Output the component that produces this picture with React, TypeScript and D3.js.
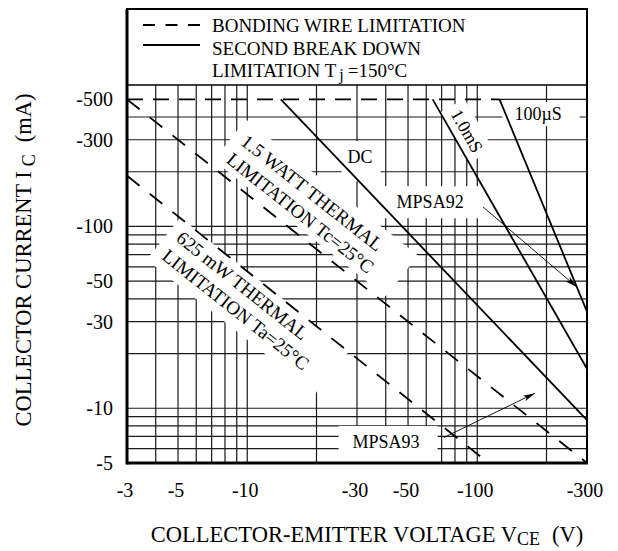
import { useEffect, useRef } from 'react';
import * as d3 from 'd3';

type Pt = [number, number];

// axis values (the sheet prints them negative: PNP device)
const xTickValues = [3, 5, 10, 30, 50, 100, 300];
const yTickValues = [5, 10, 30, 50, 100, 300, 500];
const xGridValues = [4, 5, 6, 7, 8, 9, 10, 20, 30, 40, 50, 60, 70, 80, 90, 100, 200];
const yGridValues = [6, 7, 8, 9, 10, 20, 30, 40, 50, 60, 70, 80, 90, 100, 200, 300, 400, 500];

// limit curves, [VCE (V), IC (mA)]
const bondingWire: Pt[] = [[3, 500], [125, 500]];
const dcLimit: Pt[] = [[14, 500], [300, 8.6]];
const pulse1ms: Pt[] = [[64, 500], [300, 16.5]];
const pulse100us: Pt[] = [[125, 500], [300, 34]];
const thermal1500: Pt[] = [[3, 500], [300, 5]];
const thermal625: Pt[] = [[3, 190], [112, 5]];

// annotation anchors, also in data units
const arrow92: Pt[] = [[106, 128], [271, 46.5]];
const arrow93: Pt[] = [[71.5, 6.9], [178, 12.1]];
const label100us: Pt = [145, 385];
const labelDC: Pt = [27.3, 223];
const label92: Pt = [44.6, 126];
const label93: Pt = [28.7, 6.05];
const label1ms: Pt = [90, 335];
const label1500: Pt = [9.25, 285];
const label625: Pt = [4.85, 84];

export default function App() {
  const svgRef = useRef<SVGSVGElement>(null);

  useEffect(() => {
    if (!svgRef.current) return;
    const svg = d3.select(svgRef.current);
    svg.selectAll('*').remove();

    const left = 127;
    const right = 587;
    const top = 9;
    const plotTop = 85;
    const bottom = 463;

    const x = d3.scaleLog().domain([3, 300]).range([left, right]);
    const y = d3.scaleLog().domain([5, 600]).range([bottom, plotTop]);
    const line = d3.line<Pt>().x((d) => x(d[0])).y((d) => y(d[1]));

    svg.attr('font-family', "'Liberation Serif', 'Times New Roman', serif").attr('fill', '#000');

    svg
      .append('defs')
      .append('marker')
      .attr('id', 'arrowhead')
      .attr('markerUnits', 'userSpaceOnUse')
      .attr('markerWidth', 12)
      .attr('markerHeight', 8)
      .attr('refX', 12)
      .attr('refY', 4)
      .attr('orient', 'auto')
      .append('path')
      .attr('d', 'M0,1 L12,4 L0,7 L3,4 Z')
      .attr('fill', '#000');

    const gridLayer = svg.append('g').attr('stroke', '#1a1a1a').attr('stroke-width', 1.2);
    const maskLayer = svg.append('g').attr('fill', '#fff');
    const curveLayer = svg.append('g').attr('fill', 'none').attr('stroke', '#000');
    const textLayer = svg.append('g');

    gridLayer
      .selectAll('line.v')
      .data(xGridValues)
      .join('line')
      .attr('class', 'v')
      .attr('x1', (d) => x(d))
      .attr('x2', (d) => x(d))
      .attr('y1', plotTop)
      .attr('y2', bottom);

    // the 500 mA rule is replaced by the bonding wire dashes on its left part
    gridLayer
      .selectAll('line.h')
      .data(yGridValues)
      .join('line')
      .attr('class', 'h')
      .attr('x1', (d) => (d === 500 ? x(bondingWire[1][0]) : left))
      .attr('x2', right)
      .attr('y1', (d) => y(d))
      .attr('y2', (d) => y(d));

    // text with a white patch behind it that breaks the grid
    const block = (
      at: Pt,
      angle: number,
      rows: string[],
      size: number,
      anchor: string,
      pad: [number, number, number, number],
      dy = 0
    ) => {
      const tr = `translate(${x(at[0])},${y(at[1])}) rotate(${angle})`;
      const g = textLayer.append('g').attr('transform', tr);
      rows.forEach((r, i) => {
        g.append('text')
          .attr('y', i * 23)
          .attr('dy', dy)
          .attr('font-size', size)
          .attr('text-anchor', anchor)
          .text(r);
      });
      const b = (g.node() as SVGGElement).getBBox();
      maskLayer
        .append('rect')
        .attr('transform', tr)
        .attr('x', b.x - pad[3])
        .attr('y', b.y - pad[0])
        .attr('width', b.width + pad[1] + pad[3])
        .attr('height', b.height + pad[0] + pad[2]);
    };

    const slope = (pts: Pt[]) =>
      (Math.atan2(y(pts[1][1]) - y(pts[0][1]), x(pts[1][0]) - x(pts[0][0])) * 180) / Math.PI;

    block(label100us, 0, ['100µS'], 18, 'start', [2, 18, 2, 12]);
    block(labelDC, 0, ['DC'], 18, 'start', [6, 8, 14, 6]);
    block(label92, 0, ['MPSA92'], 18, 'start', [6, 16, 6, 14]);
    block(label93, 0, ['MPSA93'], 18, 'start', [6, 18, 12, 14]);
    block(label1ms, slope(pulse1ms), ['1.0mS'], 18, 'middle', [4, 6, 4, 6], 6);
    block(label1500, slope(thermal1500), ['1.5 WATT THERMAL', 'LIMITATION Tc=25°C'], 19, 'start', [6, 28, 2, 10]);
    block(label625, slope(thermal625), ['625 mW THERMAL', 'LIMITATION Ta=25°C'], 19, 'start', [4, 24, 6, 10]);

    // limit curves
    curveLayer
      .append('path')
      .attr('d', line(bondingWire))
      .attr('stroke-width', 1.8)
      .attr('stroke-dasharray', '16,10');
    [thermal1500, thermal625].forEach((pts) => {
      curveLayer
        .append('path')
        .attr('d', line(pts))
        .attr('stroke-width', 1.8)
        .attr('stroke-dasharray', '16,13');
    });
    [dcLimit, pulse1ms, pulse100us].forEach((pts) => {
      curveLayer.append('path').attr('d', line(pts)).attr('stroke-width', 1.8);
    });
    [arrow92, arrow93].forEach((pts) => {
      curveLayer
        .append('path')
        .attr('d', line(pts))
        .attr('stroke-width', 0.9)
        .attr('marker-end', 'url(#arrowhead)');
    });

    // frame and legend box
    const frame = svg.append('g').attr('stroke', '#000').attr('fill', 'none');
    frame
      .append('rect')
      .attr('x', left)
      .attr('y', top)
      .attr('width', right - left)
      .attr('height', bottom - top)
      .attr('stroke-width', 2);
    frame.append('line').attr('x1', left).attr('x2', left).attr('y1', top).attr('y2', bottom + 1.5).attr('stroke-width', 3);
    frame.append('line').attr('x1', left).attr('x2', right + 1).attr('y1', bottom).attr('y2', bottom).attr('stroke-width', 3);
    frame.append('line').attr('x1', left).attr('x2', right).attr('y1', plotTop).attr('y2', plotTop).attr('stroke-width', 1.6);

    const legend = svg.append('g');
    legend
      .append('line')
      .attr('x1', 143)
      .attr('x2', 200)
      .attr('y1', 25)
      .attr('y2', 25)
      .attr('stroke', '#000')
      .attr('stroke-width', 1.8)
      .attr('stroke-dasharray', '12,10.5');
    legend
      .append('line')
      .attr('x1', 143)
      .attr('x2', 200)
      .attr('y1', 45)
      .attr('y2', 45)
      .attr('stroke', '#000')
      .attr('stroke-width', 1.8);
    legend.append('text').attr('x', 212).attr('y', 32).attr('font-size', 19).text('BONDING WIRE LIMITATION');
    legend.append('text').attr('x', 212).attr('y', 55).attr('font-size', 19).text('SECOND BREAK DOWN');
    const tj = legend.append('text').attr('x', 212).attr('y', 77).attr('font-size', 19);
    tj.append('tspan').text('LIMITATION T');
    tj.append('tspan').attr('dx', 3).attr('dy', 3).attr('font-size', 16).text('j');
    tj.append('tspan').attr('dx', 4).attr('dy', -3).text('=150°C');

    // tick labels
    textLayer
      .selectAll('text.xt')
      .data(xTickValues)
      .join('text')
      .attr('class', 'xt')
      .attr('x', (d) => x(d) - 2)
      .attr('y', 497)
      .attr('font-size', 20)
      .attr('text-anchor', 'middle')
      .text((d) => `-${d}`);

    textLayer
      .selectAll('text.yt')
      .data(yTickValues)
      .join('text')
      .attr('class', 'yt')
      .attr('x', 113)
      .attr('y', (d) => y(d) + 7)
      .attr('font-size', 20)
      .attr('text-anchor', 'end')
      .text((d) => `-${d}`);

    // axis titles
    const xt = textLayer
      .append('text')
      .attr('x', 367)
      .attr('y', 542)
      .attr('font-size', 22.5)
      .attr('text-anchor', 'middle');
    xt.append('tspan').text('COLLECTOR-EMITTER VOLTAGE V');
    xt.append('tspan').attr('dy', 3).attr('font-size', 18).text('CE');
    xt.append('tspan').attr('dx', 12).attr('dy', -3).text('(V)');

    const yt = textLayer
      .append('text')
      .attr('transform', 'translate(31,260) rotate(-90)')
      .attr('font-size', 22.5)
      .attr('text-anchor', 'middle');
    yt.append('tspan').text('COLLECTOR CURRENT I');
    yt.append('tspan').attr('dx', 5).attr('dy', 4).attr('font-size', 18).text('C');
    yt.append('tspan').attr('dx', 12).attr('dy', -4).text('(mA)');
  }, []);

  return (
    <svg
      ref={svgRef}
      width={618}
      height={551}
      style={{ position: 'absolute', left: 0, top: 0, background: '#fff' }}
    />
  );
}
